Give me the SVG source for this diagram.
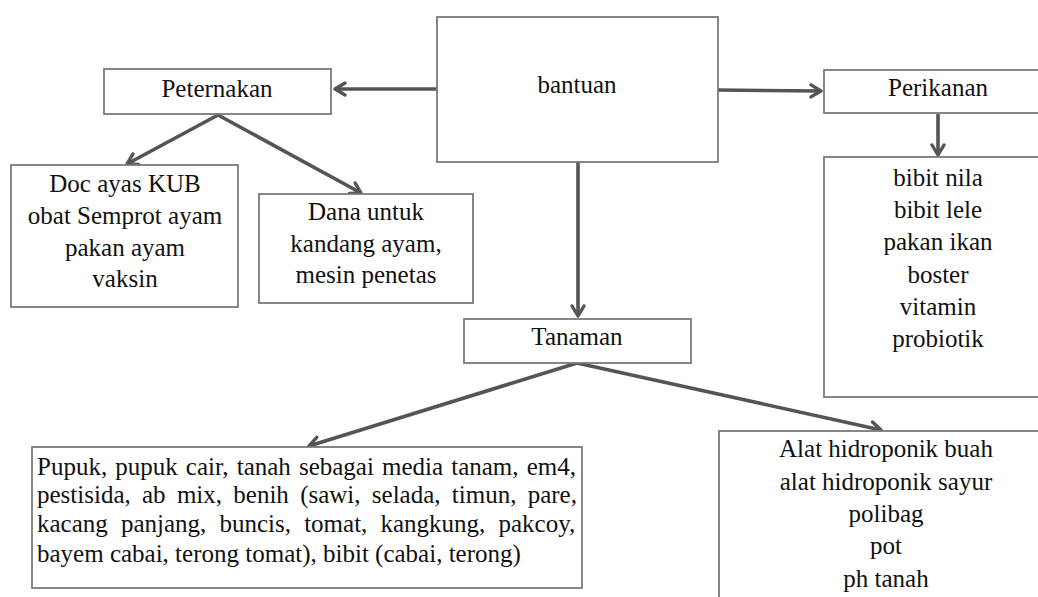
<svg xmlns="http://www.w3.org/2000/svg" width="1038" height="597" viewBox="0 0 1038 597">
<style>
.box{fill:#fff;stroke:#7a7a7a;stroke-width:1.8}
.t{font-size:25px;fill:#111}
.c{text-anchor:middle}
.con{stroke:#555;stroke-width:3.6;fill:none;marker-end:url(#ah)}
</style>
<defs>
<marker id="ah" markerUnits="userSpaceOnUse" viewBox="-1 -1 14 16" markerWidth="14" markerHeight="16" refX="11" refY="7" orient="auto">
<path d="M1,1 L11,7 L1,13" fill="none" stroke="#555" stroke-width="3.4" stroke-linecap="round" stroke-linejoin="round"/>
</marker>
</defs>
<rect width="1038" height="597" fill="#fff"/>
<g id="connectors">
<path class="con" d="M437,89 L335,89"/>
<path class="con" d="M718,90 L821,91"/>
<path class="con" d="M938,114 L938,155"/>
<path class="con" d="M578,162 L578,316"/>
<path class="con" d="M218,115 L127,164"/>
<path class="con" d="M218,115 L361,193"/>
<path class="con" d="M577,363 L309,446"/>
<path class="con" d="M577,363 L881,430"/>
</g>
<g font-family="Liberation Serif, Tinos, Times New Roman, DejaVu Serif, serif">
<g id="bantuan">
<rect class="box" x="437" y="17" width="281" height="145"/>
<text class="t c" x="577" y="93">bantuan</text>
</g>
<g id="peternakan">
<rect class="box" x="104" y="69" width="227" height="45"/>
<text class="t c" x="217" y="97">Peternakan</text>
</g>
<g id="perikanan">
<rect class="box" x="824" y="70" width="230" height="43"/>
<text class="t c" x="938" y="96">Perikanan</text>
</g>
<g id="doc">
<rect class="box" x="11" y="165" width="227" height="142"/>
<text class="t c" x="125" y="192">Doc ayas KUB</text>
<text class="t c" x="125" y="224">obat Semprot ayam</text>
<text class="t c" x="125" y="256">pakan ayam</text>
<text class="t c" x="125" y="287">vaksin</text>
</g>
<g id="dana">
<rect class="box" x="259" y="194" width="214" height="109"/>
<text class="t c" x="366" y="220">Dana untuk</text>
<text class="t c" x="366" y="252">kandang ayam,</text>
<text class="t c" x="366" y="283">mesin penetas</text>
</g>
<g id="ikan">
<rect class="box" x="824" y="157" width="230" height="240"/>
<text class="t c" x="938" y="186">bibit nila</text>
<text class="t c" x="938" y="218">bibit lele</text>
<text class="t c" x="938" y="250">pakan ikan</text>
<text class="t c" x="938" y="283">boster</text>
<text class="t c" x="938" y="315">vitamin</text>
<text class="t c" x="938" y="347">probiotik</text>
</g>
<g id="tanaman">
<rect class="box" x="464" y="319" width="227" height="44"/>
<text class="t c" x="577" y="345">Tanaman</text>
</g>
<g id="pupuk">
<rect class="box" x="32" y="447" width="550" height="141"/>
<text class="t" x="37" y="475" word-spacing="1.86">Pupuk, pupuk cair, tanah sebagai media tanam, em4,</text>
<text class="t" x="37" y="503" word-spacing="5.03">pestisida, ab mix, benih (sawi, selada, timun, pare,</text>
<text class="t" x="37" y="532" word-spacing="6.91">kacang panjang, buncis, tomat, kangkung, pakcoy,</text>
<text class="t" x="37" y="562">bayem cabai, terong tomat), bibit (cabai, terong)</text>
</g>
<g id="hidroponik">
<rect class="box" x="719" y="431" width="340" height="200"/>
<text class="t c" x="886" y="457">Alat hidroponik buah</text>
<text class="t c" x="886" y="490">alat hidroponik sayur</text>
<text class="t c" x="886" y="522">polibag</text>
<text class="t c" x="886" y="554">pot</text>
<text class="t c" x="886" y="587">ph tanah</text>
</g>
</g>
</svg>
